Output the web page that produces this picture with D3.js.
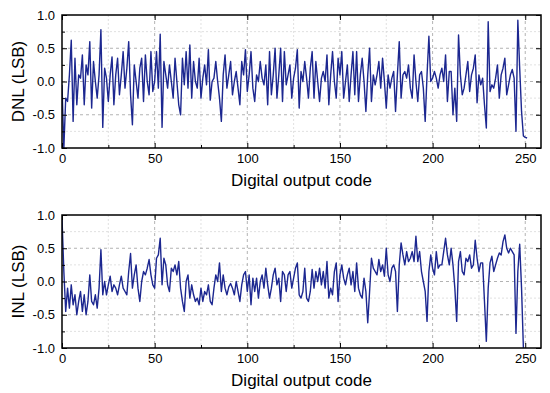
<!DOCTYPE html>
<html>
<head>
<meta charset="utf-8">
<title>DNL / INL</title>
<script src="https://d3js.org/d3.v7.min.js"></script>
<style>
body {
	margin: 0;
	background-color: white;
	font-family: Arial, "Liberation Sans", sans-serif;
}
.axis text {
	font-family: Arial, "Liberation Sans", sans-serif;
	font-size: 13px;
	fill: black;
}
.axis path, .axis line {
	stroke: black;
}
.label {
	font-family: Arial, "Liberation Sans", sans-serif;
	font-size: 17px;
	fill: black;
}
</style>
</head>
<body>
<div id="chart"></div>
<script>
// values, one per output code
const dnl = [
	-0.05, -1.0, -0.25, -0.3, 0.1, 0.62, -0.6, 0.35, -0.35, 0.1,
	0.05, 0.4, -0.35, 0.25, 0.1, 0.6, -0.4, 0.3, 0.0, -0.25,
	0.1, 0.78, -0.69, 0.2, 0.05, -0.3, 0.1, 0.37, -0.35, 0.1,
	0.35, -0.2, 0.1, 0.45, -0.1, 0.2, 0.6, -0.2, -0.65, 0.25,
	0.0, -0.25, 0.2, 0.35, -0.3, 0.4, 0.0, -0.2, 0.45, -0.15,
	0.0, 0.45, -0.1, 0.71, -0.69, 0.3, 0.1, -0.1, 0.25, 0.0,
	-0.25, 0.35, 0.0, -0.35, -0.5, 0.35, -0.05, 0.45, -0.1, 0.55,
	-0.25, 0.3, 0.0, -0.1, 0.35, -0.25, 0.05, 0.25, -0.05, 0.48,
	-0.28, 0.0, 0.05, 0.3, 0.0, -0.25, -0.6, 0.1, 0.4, -0.1,
	0.1, 0.3, -0.2, 0.0, 0.15, -0.1, -0.35, 0.3, 0.1, 0.48,
	-0.15, 0.1, 0.45, -0.1, -0.3, 0.1, 0.0, 0.3, 0.05, -0.05,
	0.25, -0.35, 0.45, -0.2, 0.1, 0.5, -0.25, 0.1, 0.5, -0.3,
	0.45, -0.05, 0.1, 0.25, -0.25, 0.05, 0.2, 0.48, -0.4, 0.15,
	0.0, 0.3, 0.05, -0.25, 0.2, 0.45, -0.25, 0.3, 0.0, -0.3,
	0.05, 0.15, 0.0, 0.4, -0.35, 0.1, 0.45, 0.0, -0.25, 0.35,
	0.1, 0.45, -0.25, 0.0, 0.25, -0.3, 0.1, 0.45, -0.2, 0.45,
	-0.3, 0.1, 0.35, 0.0, -0.45, 0.1, 0.5, -0.3, 0.1, -0.05,
	0.1, 0.3, -0.1, 0.35, 0.0, -0.4, 0.1, -0.1, 0.05, 0.15,
	-0.45, 0.1, 0.6, -0.25, 0.1, 0.15, 0.05, 0.25, -0.1, -0.25,
	0.4, 0.0, -0.3, 0.1, 0.15, -0.1, -0.6, 0.1, 0.68, 0.0,
	0.05, 0.15, 0.05, -0.1, 0.1, 0.2, 0.0, 0.4, -0.3, 0.15,
	0.15, -0.5, -0.1, -0.6, 0.7, 0.1, -0.2, -0.1, 0.1, 0.3,
	-0.15, 0.1, 0.2, 0.4, -0.32, 0.1, -0.05, 0.05, -0.35, -0.7,
	0.9, -0.15, -0.05, -0.1, 0.05, 0.25, -0.25, 0.1, 0.2, 0.35,
	-0.2, -0.05, 0.1, 0.18, 0.05, -0.75, 0.92, 0.2, -0.45, -0.82,
	-0.84, -0.85
];
const inl = [
	0.95, 0.15, -0.45, -0.1, -0.4, -0.05, -0.35, -0.2, -0.5, -0.3,
	-0.15, -0.45, -0.2, -0.5, -0.3, 0.1, -0.3, -0.35, -0.2, -0.4,
	-0.1, 0.48, -0.2, 0.0, -0.2, -0.05, 0.08, -0.15, -0.05, -0.1,
	-0.2, -0.05, 0.08, -0.1, -0.15, -0.2, 0.15, 0.42, -0.1, 0.1,
	0.25, -0.1, -0.3, 0.0, 0.15, 0.1, 0.2, 0.33, 0.1, -0.05,
	-0.1, 0.35, 0.4, 0.65, -0.05, 0.35, 0.25, -0.05, -0.15, 0.2,
	0.15, 0.25, 0.1, 0.3, -0.1, -0.3, -0.45, 0.0, 0.1, -0.25,
	-0.05, -0.2, -0.3, -0.25, -0.35, -0.1, -0.3, -0.15, -0.2, -0.05,
	-0.3, -0.35, -0.1, 0.1, 0.0, 0.28, -0.15, 0.1, -0.1, -0.2,
	-0.08, -0.03, -0.1, -0.2, 0.0, -0.15, -0.3, -0.05, 0.1, 0.15,
	-0.15, 0.1, -0.35, 0.05, -0.15, 0.05, -0.25, 0.0, 0.1, -0.1,
	0.2, -0.05, -0.25, -0.1, 0.1, 0.2, -0.05, 0.05, -0.3, 0.15,
	0.1, -0.15, 0.1, 0.15, -0.1, 0.05, 0.2, 0.28, -0.2, -0.25,
	-0.15, 0.2, -0.25, -0.3, -0.15, 0.18, -0.1, 0.15, 0.0, 0.2,
	-0.05, 0.15, -0.1, 0.3, -0.25, -0.1, -0.2, 0.15, 0.28, -0.3,
	0.1, 0.25, 0.05, -0.05, 0.1, 0.2, -0.05, 0.15, -0.15, 0.28,
	-0.1, -0.2, -0.25, 0.05, -0.15, -0.62, -0.15, 0.35, 0.2, 0.15,
	0.1, 0.33, 0.15, 0.25, 0.08, 0.5, 0.1, 0.0, 0.2, 0.25,
	0.15, -0.45, 0.25, 0.58, 0.4, 0.25, 0.45, 0.3, 0.35, 0.45,
	0.3, 0.68, 0.3, 0.45, 0.15, 0.0, -0.15, -0.6, 0.15, 0.4,
	0.2, 0.1, 0.45, 0.2, 0.25, 0.25, 0.45, 0.65, 0.4, 0.25,
	0.5, 0.25, -0.1, -0.6, 0.3, 0.45, 0.15, 0.1, 0.35, 0.3,
	0.4, 0.2, 0.25, 0.62, 0.35, 0.15, 0.28, 0.28, -0.3, -0.9,
	-0.1, 0.28, 0.38, 0.15, 0.25, 0.35, 0.43, 0.4, 0.6, 0.7,
	0.5, 0.43, 0.5, 0.45, 0.4, -0.78, 0.15, 0.56, -0.1, -1.0
];
const xTicks = [0, 50, 100, 150, 200, 250];
const xMinor = [25, 75, 125, 175, 225];
const yTicks = [-1.0, -0.5, 0.0, 0.5, 1.0];
const yMinor = [-0.75, -0.25, 0.25, 0.75];
const xLabel = "Digital output code";

const width = 550, height = 393;
const lineColor = "#1c2790";

const svg = d3.select("#chart").append("svg")
	.attr("width", width)
	.attr("height", height);

function panel(data, yLabel, top, id)
{
	const left = 62, w = 479, h = 133;
	const x = d3.scaleLinear([0, 258.5], [0, w]);
	const y = d3.scaleLinear([-1, 1], [h, 0]);

	const g = svg.append("g").attr("transform", `translate(${left},${top})`);

	// grid, minor first
	const grid = g.append("g");
	grid.selectAll(".vminor").data(xMinor).join("line")
		.attr("x1", d => x(d)).attr("x2", d => x(d))
		.attr("y1", 0).attr("y2", h)
		.attr("stroke", "#d8d8d8").attr("stroke-width", 0.8)
		.attr("stroke-dasharray", "2,2");
	grid.selectAll(".hminor").data(yMinor).join("line")
		.attr("x1", 0).attr("x2", w)
		.attr("y1", d => y(d)).attr("y2", d => y(d))
		.attr("stroke", "#d8d8d8").attr("stroke-width", 0.8)
		.attr("stroke-dasharray", "2,2");
	grid.selectAll(".vmajor").data(xTicks.slice(1)).join("line")
		.attr("x1", d => x(d)).attr("x2", d => x(d))
		.attr("y1", 0).attr("y2", h)
		.attr("stroke", "#a0a0a0").attr("stroke-width", 0.8)
		.attr("stroke-dasharray", "3,3");
	grid.selectAll(".hmajor").data(yTicks.slice(1, -1)).join("line")
		.attr("x1", 0).attr("x2", w)
		.attr("y1", d => y(d)).attr("y2", d => y(d))
		.attr("stroke", "#a0a0a0").attr("stroke-width", 0.8)
		.attr("stroke-dasharray", "3,3");

	g.append("clipPath").attr("id", id)
		.append("rect").attr("width", w).attr("height", h);

	const line = d3.line()
		.x((d, i) => x(i))
		.y(d => y(d));

	g.append("path")
		.datum(data)
		.attr("clip-path", `url(#${id})`)
		.attr("fill", "none")
		.attr("stroke", lineColor)
		.attr("stroke-width", 1.4)
		.attr("stroke-linejoin", "round")
		.attr("d", line);

	// axes, ticks pointing in
	const fmt = d => d.toFixed(1);
	g.append("g").attr("class", "axis")
		.attr("transform", `translate(0,${h})`)
		.call(d3.axisBottom(x).tickValues(xTicks).tickSize(-5).tickPadding(6).tickFormat(d3.format("d")))
		.call(a => a.select(".domain").remove());
	g.append("g").attr("class", "axis")
		.attr("transform", `translate(0,${h})`)
		.call(d3.axisBottom(x).tickValues(xMinor).tickSize(-3).tickFormat(""))
		.call(a => a.select(".domain").remove());
	g.append("g").attr("class", "axis")
		.call(d3.axisTop(x).tickValues(xTicks).tickSize(-5).tickFormat(""))
		.call(a => a.select(".domain").remove());
	g.append("g").attr("class", "axis")
		.call(d3.axisLeft(y).tickValues(yTicks).tickSize(-5).tickPadding(7).tickFormat(fmt))
		.call(a => a.select(".domain").remove());
	g.append("g").attr("class", "axis")
		.call(d3.axisLeft(y).tickValues(yMinor).tickSize(-3).tickFormat(""))
		.call(a => a.select(".domain").remove());
	g.append("g").attr("class", "axis")
		.attr("transform", `translate(${w},0)`)
		.call(d3.axisRight(y).tickValues(yTicks).tickSize(-5).tickFormat(""))
		.call(a => a.select(".domain").remove());

	g.append("rect")
		.attr("width", w).attr("height", h)
		.attr("fill", "none")
		.attr("stroke", "black")
		.attr("stroke-width", 1.5);

	g.append("text").attr("class", "label")
		.attr("x", w / 2).attr("y", h + 38)
		.attr("text-anchor", "middle")
		.text(xLabel);

	g.append("text").attr("class", "label")
		.attr("transform", `translate(-38,${h / 2}) rotate(-90)`)
		.attr("text-anchor", "middle")
		.text(yLabel);
}

panel(dnl, "DNL (LSB)", 15, "clipDnl");
panel(inl, "INL (LSB)", 215, "clipInl");
</script>
</body>
</html>
